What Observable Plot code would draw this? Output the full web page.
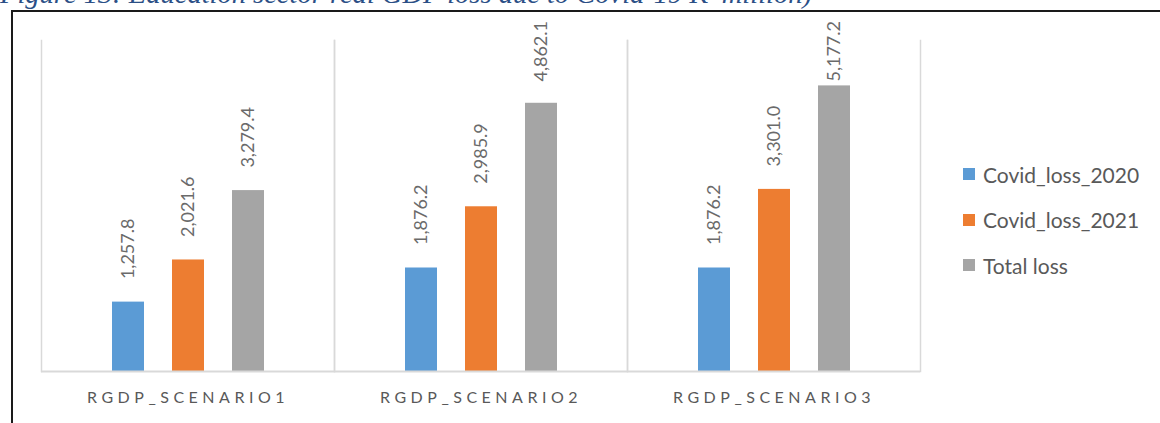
<!DOCTYPE html>
<html>
<head>
<meta charset="utf-8">
<script src="https://cdn.jsdelivr.net/npm/d3@7"></script>
<script src="https://cdn.jsdelivr.net/npm/@observablehq/plot@0.6"></script>
<style>
  html, body { margin: 0; padding: 0; background: #fff; }
  #wrap { position: relative; width: 1160px; height: 423px; overflow: hidden; background: #fff; }
  #title { position: absolute; left: 0; top: -19px; white-space: nowrap; font: italic 27px "Liberation Serif", serif; line-height: 27px; color: #2b4f86; transform-origin: 0 0; }
  #frameTop { position: absolute; left: 11px; top: 10px; width: 1149px; height: 2px; background: #1a1a1a; }
  #frameLeft { position: absolute; left: 11px; top: 10px; width: 2px; height: 413px; background: #1a1a1a; }
  #chart { position: absolute; left: 0; top: 0; }
  #chart svg { font-family: Lato, "Open Sans", sans-serif; }
  #legend { position: absolute; left: 963px; top: 162px; font-family: Lato, sans-serif; font-size: 21px; color: #595959; }
  .row { display: flex; align-items: center; height: 24px; margin-bottom: 21.5px; }
  .sw { width: 12px; height: 12px; margin-right: 8px; }
</style>
</head>
<body>
<div id="wrap">
  <div id="chart"></div>
  <div id="title">Figure 13: Education sector real GDP loss due to Covid-19 K' million)</div>
  <div id="frameTop"></div>
  <div id="frameLeft"></div>
  <div id="legend"></div>
</div>
<script>
const scenarios = ["RGDP_SCENARIO1", "RGDP_SCENARIO2", "RGDP_SCENARIO3"];
const seriesNames = ["Covid_loss_2020", "Covid_loss_2021", "Total loss"];
const loss2020 = [1257.8, 1876.2, 1876.2];
const loss2021 = [2021.6, 2985.9, 3301.0];
const totalLoss = [3279.4, 4862.1, 5177.2];
const colors = ["#5B9BD5", "#ED7D31", "#A5A5A5"];

const seriesValues = [loss2020, loss2021, totalLoss];
const data = scenarios.flatMap((s, i) =>
  seriesNames.map((name, j) => ({scenario: s, series: name, value: seriesValues[j][i]}))
);
const fmt = d3.format(",.1f");

const chart = Plot.plot({
  width: 1160,
  height: 423,
  marginLeft: 40,
  marginRight: 239,
  marginTop: 40,
  marginBottom: 52,
  fx: {domain: scenarios, padding: 0, label: null},
  x: {domain: seriesNames, paddingInner: 0.467, paddingOuter: 1.175, axis: null},
  y: {domain: [0, 6000], axis: null},
  color: {domain: seriesNames, range: colors},
  marks: [
    Plot.frame({anchor: "left", stroke: "#d9d9d9", strokeWidth: 1.5}),
    Plot.frame({anchor: "right", stroke: "#d9d9d9", strokeWidth: 1.5}),
    Plot.barY(data, {fx: "scenario", x: "series", y: "value", fill: "series"}),
    Plot.text(data, {
      fx: "scenario", x: "series", y: "value",
      text: d => fmt(d.value),
      rotate: -90, textAnchor: "start", lineAnchor: "middle",
      dy: -23, fill: "#6a6a6a", fontSize: 18, className: "value-label"
    }),
    Plot.ruleY([0], {stroke: "#d9d9d9", strokeWidth: 2}),
    Plot.axisFx({anchor: "bottom", tickSize: 0, tickPadding: 20, fontSize: 16, label: null, fill: "#595959"})
  ]
});
document.getElementById("chart").appendChild(chart);
chart.querySelectorAll('[aria-label="fx-axis tick label"] text').forEach(t => {
  t.style.letterSpacing = "4.5px";
});

// keep value labels inside the chart area (as the original does)
const svgTop = chart.getBoundingClientRect().top;
chart.querySelectorAll('.value-label text').forEach(t => {
  const top = t.getBoundingClientRect().top - svgTop;
  const minTop = 21;
  if (top < minTop) {
    const shift = minTop - top;
    const tr = t.getAttribute("transform") || "";
    t.setAttribute("transform", `translate(0,${shift}) ${tr}`);
  }
});

const legend = document.getElementById("legend");
seriesNames.forEach((name, i) => {
  const row = document.createElement("div");
  row.className = "row";
  const sw = document.createElement("div");
  sw.className = "sw";
  sw.style.background = colors[i];
  const label = document.createElement("span");
  label.textContent = name;
  row.appendChild(sw);
  row.appendChild(label);
  legend.appendChild(row);
});

const title = document.getElementById("title");
const w = title.getBoundingClientRect().width;
title.style.transform = `scaleX(${812 / w})`;
</script>
</body>
</html>
